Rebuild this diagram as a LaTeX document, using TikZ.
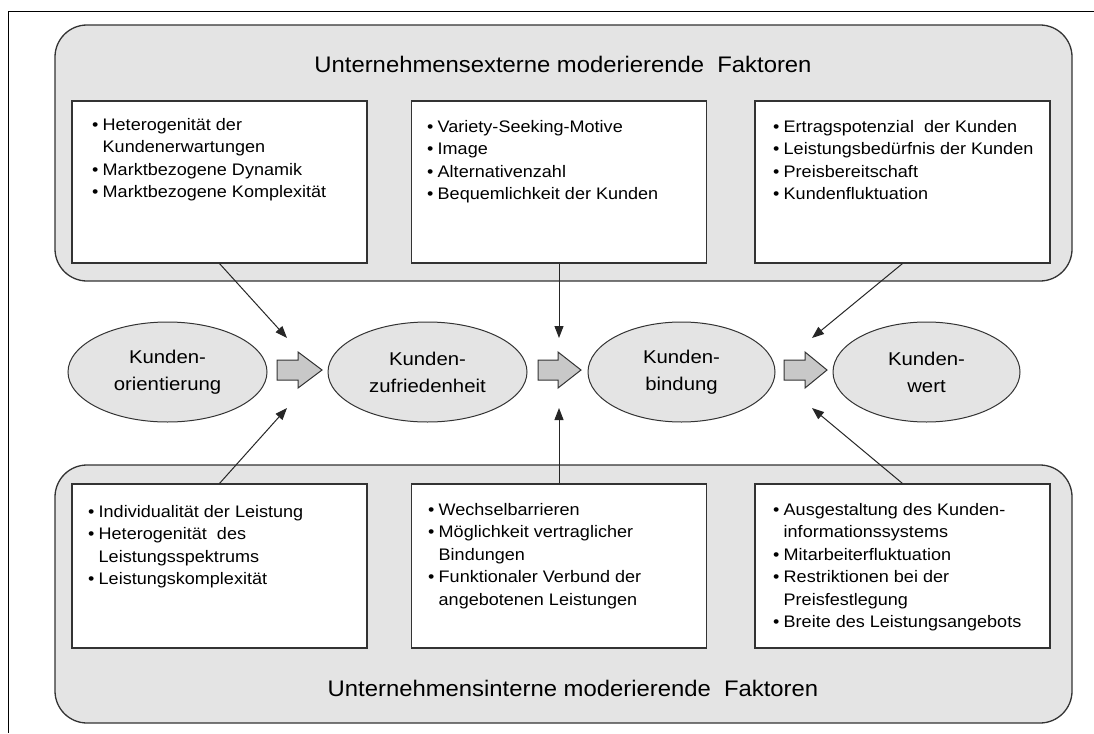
\documentclass[tikz,border=0pt]{standalone}
\usepackage{fontspec}
\setmainfont{Liberation Sans}
\newfontfamily\bfont{Liberation Sans}[FakeStretch=1.08]
\newfontfamily\efont{Liberation Sans}[FakeStretch=1.1]
\newfontfamily\tfont{Liberation Sans}[FakeStretch=1.06]
\usetikzlibrary{arrows.meta,shapes.geometric}
\definecolor{boxgray}{HTML}{E4E4E4}
\definecolor{arrgray}{HTML}{C8C8C8}
\definecolor{edgecol}{HTML}{333333}
\newcommand{\bul}{\makebox[10.5pt][l]{•}}
\newcommand{\cont}{\hspace*{10.5pt}}
\newcommand{\btext}[1]{\parbox[t]{285pt}{\bfont\fontsize{16.7}{22.5}\selectfont #1}}
\tikzset{
  outerbox/.style={draw=edgecol, line width=1.3pt, fill=boxgray, rounded corners=32pt, inner sep=0pt},
  innerbox/.style={draw=edgecol, line width=1.1pt, fill=white, minimum width=295pt, inner sep=0pt},
  ell/.style={ellipse, draw=edgecol, line width=1pt, fill=boxgray, inner sep=0pt, align=center,
    font=\efont\fontsize{18.5}{27}\selectfont},
  blockarr/.style={draw=edgecol, line width=1pt, fill=arrgray, line join=miter},
  thinarr/.style={draw=black!85, line width=1pt, -{Triangle[length=12pt,width=9pt]}},
  btxt/.style={anchor=base west, inner sep=0pt},
  title/.style={anchor=base, inner sep=0pt, font=\tfont\fontsize{22.5}{27}\selectfont}
}
\begin{document}
\begin{tikzpicture}[x=1pt,y=-1pt]
\useasboundingbox (0,0) rectangle (1094,733);
\draw[black, line width=1pt] (1094,12) -- (8,12) -- (8,733);

% outer boxes
\node[outerbox, minimum width=1017pt, minimum height=256pt] (ext) at (563.5,153) {};
\node[outerbox, minimum width=1017pt, minimum height=258pt] (int) at (563.5,594) {};
\node[title] (exttitle) at (563,73) {Unternehmensexterne moderierende\ \ Faktoren};
\node[title] (inttitle) at (573,696) {Unternehmensinterne moderierende\ \ Faktoren};

% inner boxes
\node[innerbox, minimum height=162pt] (tl) at (219.5,182) {};
\node[innerbox, minimum height=162pt] (tm) at (559,182) {};
\node[innerbox, minimum height=162pt] (tr) at (902.5,182) {};
\node[innerbox, minimum height=164pt] (bl) at (219.5,566) {};
\node[innerbox, minimum height=164pt] (bm) at (559,566) {};
\node[innerbox, minimum height=164pt] (br) at (902.5,566) {};

\node[btxt] (tltxt) at (92,130) {\btext{\bul Heterogenität der\\\cont Kundenerwartungen\\\bul Marktbezogene Dynamik\\\bul Marktbezogene Komplexität}};
\node[btxt] (tmtxt) at (427,132) {\btext{\bul Variety-Seeking-Motive\\\bul Image\\\bul Alternativenzahl\\\bul Bequemlichkeit der Kunden}};
\node[btxt] (trtxt) at (773,132) {\btext{\bul Ertragspotenzial\ \ der Kunden\\\bul Leistungsbedürfnis der Kunden\\\bul Preisbereitschaft\\\bul Kundenfluktuation}};
\node[btxt] (bltxt) at (88,517) {\btext{\bul Individualität der Leistung\\\bul Heterogenität\ \ des\\\cont Leistungsspektrums\\\bul Leistungskomplexität}};
\node[btxt] (bmtxt) at (428,515) {\btext{\bul Wechselbarrieren\\\bul Möglichkeit vertraglicher\\\cont Bindungen\\\bul Funktionaler Verbund der\\\cont angebotenen Leistungen}};
\node[btxt] (brtxt) at (773,515) {\btext{\bul Ausgestaltung des Kunden-\\\cont informationssystems\\\bul Mitarbeiterfluktuation\\\bul Restriktionen bei der\\\cont Preisfestlegung\\\bul Breite des Leistungsangebots}};

% ellipses
\node[ell, minimum width=199pt, minimum height=100pt] (e1) at (167.5,372) {Kunden-\\orientierung};
\node[ell, minimum width=199pt, minimum height=100pt] (e2) at (427.5,372) {Kunden-\\zufriedenheit};
\node[ell, minimum width=187pt, minimum height=100pt] (e3) at (681.5,372) {Kunden-\\bindung};
\node[ell, minimum width=187pt, minimum height=100pt] (e4) at (926.5,372) {Kunden-\\wert};

% block arrows
\draw[blockarr] (277,360) -- (298,360) -- (298,352) -- (322,370) -- (298,388) -- (298,380) -- (277,380) -- cycle;
\draw[blockarr] (538,360) -- (558,360) -- (558,352) -- (581,370) -- (558,388) -- (558,380) -- (538,380) -- cycle;
\draw[blockarr] (784,360) -- (805,360) -- (805,352) -- (827,370) -- (805,388) -- (805,380) -- (784,380) -- cycle;

% thin arrows
\coordinate (t1) at (287,338);
\coordinate (t2) at (559,338);
\coordinate (t3) at (812,338);
\coordinate (b1) at (287,408);
\coordinate (b2) at (559,408);
\coordinate (b3) at (812,408);
\draw[thinarr] (tl.south) -- (t1);
\draw[thinarr] (tm.south) -- (t2);
\draw[thinarr] (tr.south) -- (t3);
\draw[thinarr] (bl.north) -- (b1);
\draw[thinarr] (bm.north) -- (b2);
\draw[thinarr] (br.north) -- (b3);
\end{tikzpicture}
\end{document}
